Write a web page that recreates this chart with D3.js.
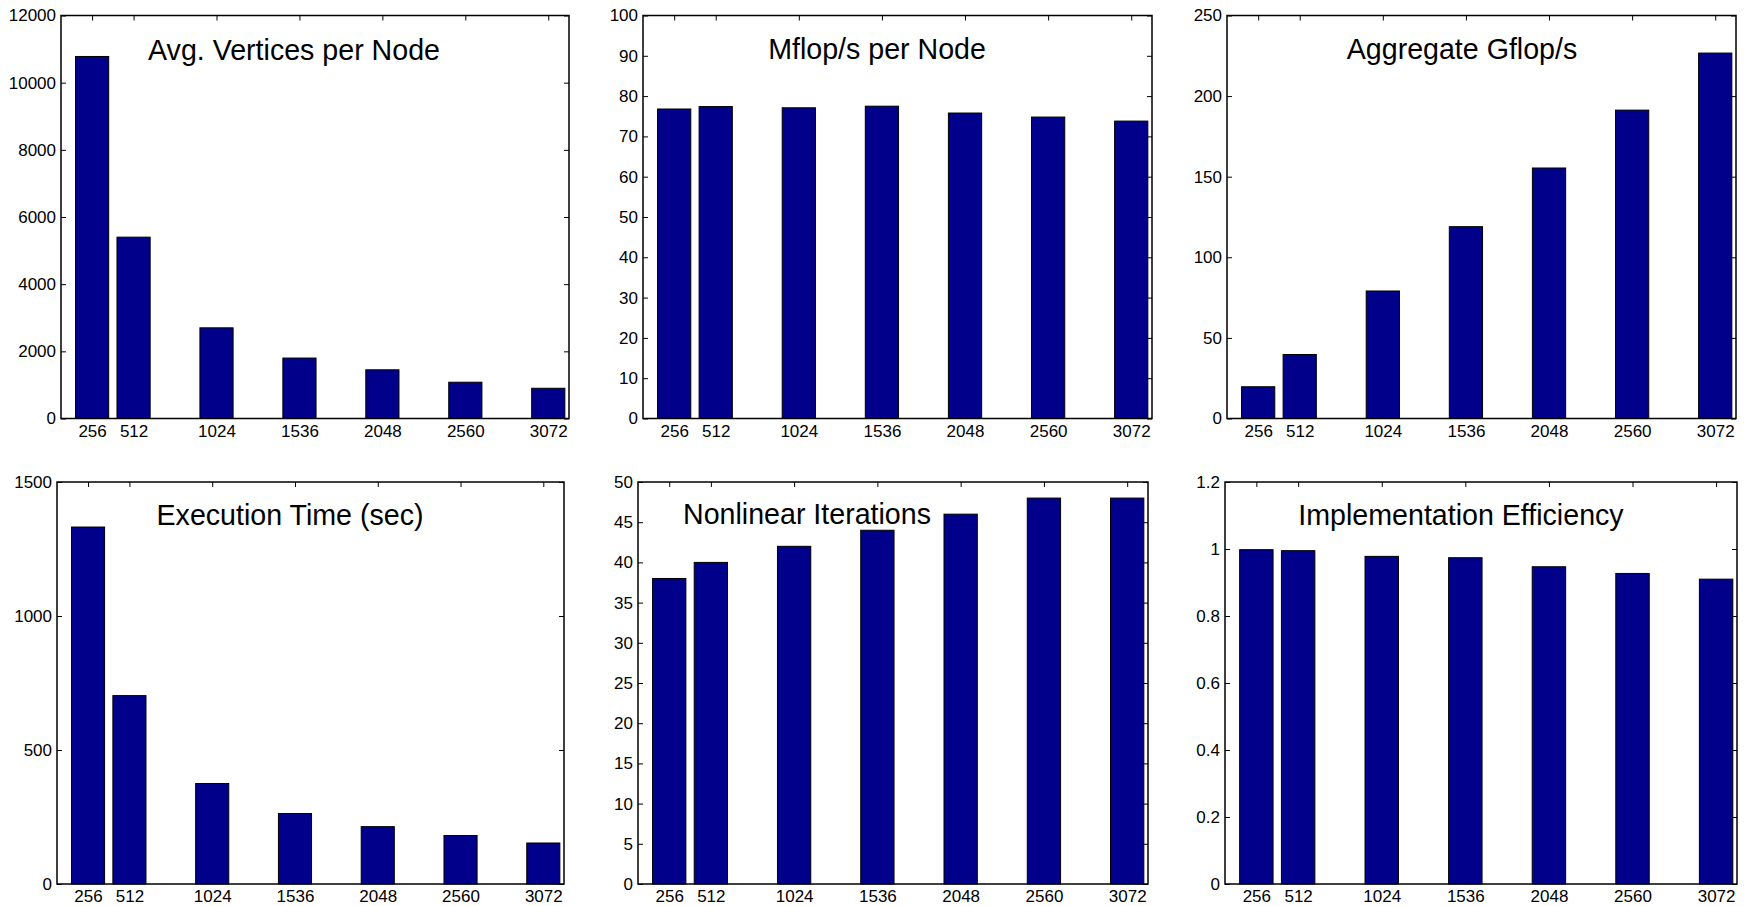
<!DOCTYPE html>
<html>
<head>
<meta charset="utf-8">
<script src="https://cdn.jsdelivr.net/npm/d3@7"></script>
<style>
  body { margin: 0; background: #fff; }
  svg text { font-family: "Liberation Sans", Arial, Helvetica, sans-serif !important; fill: #000; }
</style>
</head>
<body>
<div id="chart"></div>
<script>
// processor counts on the x axis
var nodes = [256, 512, 1024, 1536, 2048, 2560, 3072];

// values
var avgVertices     = [10780, 5400, 2700, 1800, 1450, 1080, 900];
var mflopsPerNode   = [76.8, 77.4, 77.1, 77.5, 75.8, 74.8, 73.8];
var aggregateGflops = [19.7, 39.7, 79.1, 119, 155.4, 191.3, 226.7];
var execTime        = [1332, 703, 375, 263, 214, 181, 153];
var nonlinearIters  = [38, 40, 42, 44, 46, 48, 48];
var implEfficiency  = [0.998, 0.995, 0.978, 0.974, 0.947, 0.927, 0.910];

// y tick labels for each panel
var ticksVertices = [0, 2000, 4000, 6000, 8000, 10000, 12000];
var ticksMflops   = [0, 10, 20, 30, 40, 50, 60, 70, 80, 90, 100];
var ticksGflops   = [0, 50, 100, 150, 200, 250];
var ticksTime     = [0, 500, 1000, 1500];
var ticksIters    = [0, 5, 10, 15, 20, 25, 30, 35, 40, 45, 50];
var ticksEff      = [0, 0.2, 0.4, 0.6, 0.8, 1, 1.2];

var titles = ["Avg. Vertices per Node", "Mflop/s per Node", "Aggregate Gflop/s",
              "Execution Time (sec)", "Nonlinear Iterations", "Implementation Efficiency"];

var svgWidth = 1746;
var svgHeight = 906;
var fontFam = "'Liberation Sans', Arial, Helvetica, sans-serif";

var svg = d3.select("#chart")
  .append("svg")
    .attr("width", svgWidth)
    .attr("height", svgHeight)
    .attr("font-family", fontFam);

// panel boxes [left, right, top, bottom] and title anchor (x centre, baseline y)
var panels = [
  {values: avgVertices,     ticks: ticksVertices, box: [61, 569, 15.5, 418.5],  tx: 294,  ty: 60},
  {values: mflopsPerNode,   ticks: ticksMflops,   box: [643, 1152, 15.5, 418.5], tx: 877, ty: 59},
  {values: aggregateGflops, ticks: ticksGflops,   box: [1227, 1736, 15.5, 418.5], tx: 1462, ty: 59},
  {values: execTime,        ticks: ticksTime,     box: [57, 564, 482, 884],     tx: 290,  ty: 525},
  {values: nonlinearIters,  ticks: ticksIters,    box: [638, 1148, 482, 884],   tx: 807,  ty: 524},
  {values: implEfficiency,  ticks: ticksEff,      box: [1225, 1737, 482, 884],  tx: 1461, ty: 525}
];

var barWidth = 0.8 * 256;

panels.forEach(function(p, k) {
  var left = p.box[0], right = p.box[1], top = p.box[2], bottom = p.box[3];

  var x = d3.scaleLinear().domain([64, 3200]).range([left, right]);
  var y = d3.scaleLinear().domain([0, d3.max(p.ticks)]).range([bottom, top]);

  var g = svg.append("g");

  // bottom axis: inward ticks, labels below
  g.append("g")
    .attr("transform", "translate(0," + bottom + ")")
    .call(d3.axisBottom(x).tickValues(nodes).tickSize(-5).tickPadding(6).tickFormat(d3.format("d")))
    .call(function(a) {
      a.attr("font-family", fontFam).attr("font-size", 17);
      a.select(".domain").remove();
      a.selectAll("text").attr("dy", "0.71em");
    });

  // top ticks
  g.append("g")
    .attr("transform", "translate(0," + top + ")")
    .call(d3.axisTop(x).tickValues(nodes).tickSize(-5).tickFormat(""))
    .call(function(a) { a.select(".domain").remove(); });

  // left axis
  g.append("g")
    .attr("transform", "translate(" + left + ",0)")
    .call(d3.axisLeft(y).tickValues(p.ticks).tickSize(-5).tickPadding(5).tickFormat(function(d) { return String(+d.toFixed(1)); }))
    .call(function(a) {
      a.attr("font-family", fontFam).attr("font-size", 17);
      a.select(".domain").remove();
    });

  // right ticks
  g.append("g")
    .attr("transform", "translate(" + right + ",0)")
    .call(d3.axisRight(y).tickValues(p.ticks).tickSize(-5).tickFormat(""))
    .call(function(a) { a.select(".domain").remove(); });

  // bars
  g.selectAll("rect.bar")
    .data(p.values)
    .enter()
    .append("rect")
    .classed("bar", true)
    .attr("x", function(d, i) { return x(nodes[i] - barWidth / 2); })
    .attr("width", function(d, i) { return x(nodes[i] + barWidth / 2) - x(nodes[i] - barWidth / 2); })
    .attr("y", function(d) { return y(d); })
    .attr("height", function(d) { return bottom - y(d); })
    .attr("fill", "#00008b")
    .attr("stroke", "#000")
    .attr("stroke-width", 1);

  // box
  g.append("rect")
    .attr("x", left)
    .attr("y", top)
    .attr("width", right - left)
    .attr("height", bottom - top)
    .attr("fill", "none")
    .attr("stroke", "#000")
    .attr("stroke-width", 1.5);

  g.append("text")
    .attr("x", p.tx)
    .attr("y", p.ty)
    .attr("text-anchor", "middle")
    .attr("font-family", fontFam)
    .attr("font-size", 28.6)
    .text(titles[k]);
});
</script>
</body>
</html>
